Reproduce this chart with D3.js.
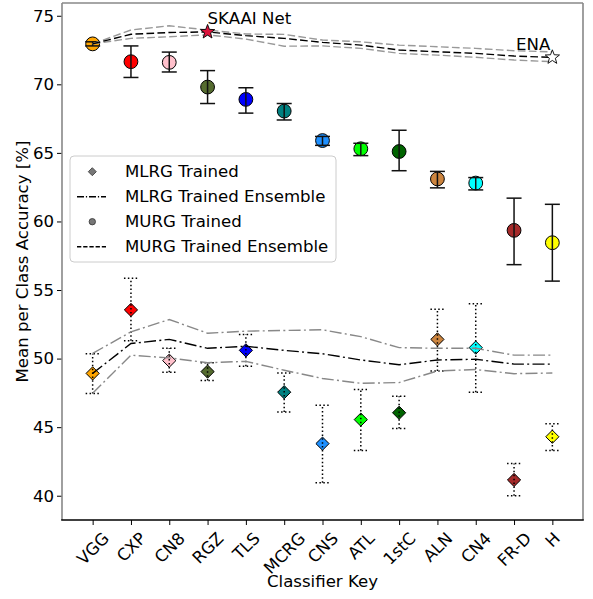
<!DOCTYPE html>
<html><head><meta charset="utf-8">
<script src="https://cdn.jsdelivr.net/npm/d3@7"></script>
<style>
body{margin:0;background:#fff}
svg{display:block}
text{font-family:"DejaVu Sans",sans-serif;fill:#000}
</style>
</head><body>
<svg id="chart" width="593" height="599"></svg>
<script>
// Classifiers along the x axis and their marker colours
const classifiers = ["VGG","CXP","CN8","RGZ","TLS","MCRG","CNS","ATL","1stC","ALN","CN4","FR-D","H"];
const classifierColors = ["orange","red","pink","darkolivegreen","blue","teal","dodgerblue","lime","darkgreen","peru","cyan","brown","yellow"];

// MURG trained: mean accuracy and error-bar bounds
const murgMean = [72.95, 71.65, 71.6, 69.8, 68.9, 68.05, 65.9, 65.3, 65.1, 63.1, 62.8, 59.35, 58.45];
const murgLow  = [72.8, 70.5, 70.9, 68.6, 67.9, 67.4, 65.55, 64.8, 63.7, 62.45, 62.3, 56.85, 55.65];
const murgHigh = [73.1, 72.8, 72.35, 71.0, 69.75, 68.6, 66.2, 65.7, 66.65, 63.65, 63.2, 61.7, 61.25];

// MURG trained ensemble (cumulative) with bounds
const murgEnsemble     = [72.95, 73.65, 73.78, 73.82, 73.55, 73.35, 73.06, 72.86, 72.5, 72.37, 72.26, 72.06, 71.97];
const murgEnsembleLow  = [72.95, 73.35, 73.47, 73.61, 73.3, 72.78, 72.8, 72.62, 72.26, 72.13, 71.97, 71.77, 71.65];
const murgEnsembleHigh = [72.95, 73.96, 74.27, 73.96, 73.67, 73.64, 73.23, 73.1, 72.86, 72.74, 72.62, 72.45, 72.37];

// MLRG trained: mean accuracy and error-bar bounds
const mlrgMean = [48.92, 53.55, 49.85, 49.05, 50.6, 47.55, 43.8, 45.55, 46.05, 51.4, 50.8, 41.15, 44.3];
const mlrgLow  = [47.45, 51.3, 49.0, 48.4, 49.45, 46.1, 40.95, 43.3, 44.9, 49.1, 47.55, 40.0, 43.3];
const mlrgHigh = [50.35, 55.85, 50.75, 49.7, 51.75, 48.95, 46.6, 47.75, 47.25, 53.6, 54.0, 42.35, 45.25];

// MLRG trained ensemble (cumulative) with bounds
const mlrgEnsemble     = [48.92, 51.1, 51.4, 50.75, 50.9, 50.6, 50.35, 49.9, 49.55, 49.9, 49.95, 49.6, 49.6];
const mlrgEnsembleLow  = [47.47, 50.25, 50.05, 49.7, 49.8, 49.15, 48.55, 48.2, 48.25, 49.1, 49.2, 48.9, 48.95];
const mlrgEnsembleHigh = [50.38, 51.95, 52.85, 51.85, 52.0, 52.05, 52.1, 51.6, 50.8, 50.75, 50.75, 50.25, 50.25];

// Highlighted ensembles
const highlights = [
  {label: "SKAAI Net", index: 3, fill: "crimson", anchor: "start", dx: 0, dy: -8},
  {label: "ENA", index: 12, fill: "white", anchor: "end", dx: -2, dy: -7}
];

const yTicks = [40, 45, 50, 55, 60, 65, 70, 75];

const svg = d3.select("#chart");
const plot = {left: 62, right: 583, top: 3, bottom: 520};

const x = d3.scaleLinear().domain([-0.8, 12.8]).range([plot.left, plot.right]);
const y = d3.scaleLinear().domain([38.23, 75.93]).range([plot.bottom, plot.top]);

const FS = 16.6;

// Frame
svg.append("rect").attr("x", plot.left).attr("y", plot.top)
  .attr("width", plot.right - plot.left).attr("height", plot.bottom - plot.top)
  .attr("fill", "#fff");

// Axes
const yAxis = d3.axisLeft(y).tickValues(yTicks).tickSize(5).tickPadding(3).tickFormat(d3.format("d"));
const gy = svg.append("g").attr("transform", `translate(${plot.left},0)`).call(yAxis);
gy.select(".domain").remove();
gy.selectAll(".tick line").attr("stroke", "#000").attr("stroke-width", 1);
gy.selectAll(".tick text").attr("font-size", FS).attr("font-family", '"DejaVu Sans",sans-serif');

const xAxis = d3.axisBottom(x).tickValues(d3.range(classifiers.length)).tickSize(5).tickFormat(i => classifiers[i]);
const gx = svg.append("g").attr("transform", `translate(0,${plot.bottom})`).call(xAxis);
gx.select(".domain").remove();
gx.selectAll(".tick line").attr("stroke", "#000").attr("stroke-width", 1);
gx.selectAll(".tick text")
  .attr("font-size", FS).attr("font-family", '"DejaVu Sans",sans-serif')
  .attr("text-anchor", "middle").attr("dy", null).attr("y", 0)
  .attr("dominant-baseline", "central")
  .each(function() {
    const w = this.getComputedTextLength();
    const h = FS * 0.95;
    const half = (w + h) * Math.SQRT1_2 / 2;
    const cy = 10 + half;
    d3.select(this).attr("transform", `translate(0,${cy}) rotate(-45)`);
  });

// Spines
svg.append("line").attr("x1", plot.left).attr("x2", plot.left).attr("y1", plot.top).attr("y2", plot.bottom)
  .attr("stroke", "#888").attr("stroke-width", 1.6);
svg.append("line").attr("x1", plot.right).attr("x2", plot.right).attr("y1", plot.top).attr("y2", plot.bottom)
  .attr("stroke", "#888").attr("stroke-width", 1.6);
svg.append("line").attr("x1", plot.left).attr("x2", plot.right).attr("y1", plot.top).attr("y2", plot.top)
  .attr("stroke", "#888").attr("stroke-width", 1.6);
svg.append("line").attr("x1", plot.left - 0.8).attr("x2", plot.right + 0.8).attr("y1", plot.bottom).attr("y2", plot.bottom)
  .attr("stroke", "#000").attr("stroke-width", 1.6);

// Axis titles
svg.append("text").attr("transform", `translate(22,${(plot.top + plot.bottom) / 2}) rotate(-90)`)
  .attr("text-anchor", "middle").attr("dominant-baseline", "central")
  .attr("font-size", FS).text("Mean per Class Accuracy [%]");
svg.append("text").attr("x", (plot.left + plot.right) / 2).attr("y", 587)
  .attr("text-anchor", "middle").attr("font-size", FS).text("Classifier Key");

const idx = d3.range(classifiers.length);
const lineOf = arr => d3.line().x(i => x(i)).y(i => y(arr[i]))(idx);

const layer = svg.append("g");

// MURG trained: circles with solid error bars
const murg = layer.append("g");
murg.selectAll("circle").data(idx).join("circle")
  .attr("cx", i => x(i)).attr("cy", i => y(murgMean[i])).attr("r", 6.9)
  .attr("fill", i => classifierColors[i]).attr("stroke", "#000").attr("stroke-width", 1);
const murgBars = murg.append("g").attr("stroke", "#111").attr("stroke-width", 1.5);
murgBars.selectAll(".bar").data(idx).join("line").attr("class", "bar")
  .attr("x1", i => x(i)).attr("x2", i => x(i))
  .attr("y1", i => y(murgLow[i])).attr("y2", i => y(murgHigh[i]));
murgBars.selectAll(".capHi").data(idx).join("line").attr("class", "capHi")
  .attr("x1", i => x(i) - 7.5).attr("x2", i => x(i) + 7.5)
  .attr("y1", i => y(murgHigh[i])).attr("y2", i => y(murgHigh[i]));
murgBars.selectAll(".capLo").data(idx).join("line").attr("class", "capLo")
  .attr("x1", i => x(i) - 7.5).attr("x2", i => x(i) + 7.5)
  .attr("y1", i => y(murgLow[i])).attr("y2", i => y(murgLow[i]));

// MLRG trained: diamonds with dotted error bars
const diamond = r => `M0,${-r}L${r},0L0,${r}L${-r},0Z`;
const mlrg = layer.append("g");
mlrg.selectAll("path").data(idx).join("path")
  .attr("d", diamond(6.6))
  .attr("transform", i => `translate(${x(i)},${y(mlrgMean[i])})`)
  .attr("fill", i => classifierColors[i]).attr("stroke", "#000").attr("stroke-width", 1);
const mlrgBars = mlrg.append("g").attr("stroke", "#000").attr("stroke-width", 1.5).attr("stroke-dasharray", "1.5,2.4");
mlrgBars.selectAll(".bar").data(idx).join("line").attr("class", "bar")
  .attr("x1", i => x(i)).attr("x2", i => x(i))
  .attr("y1", i => y(mlrgLow[i])).attr("y2", i => y(mlrgHigh[i]));
mlrgBars.selectAll(".capHi").data(idx).join("line").attr("class", "capHi")
  .attr("x1", i => x(i) - 7).attr("x2", i => x(i) + 7)
  .attr("y1", i => y(mlrgHigh[i])).attr("y2", i => y(mlrgHigh[i]));
mlrgBars.selectAll(".capLo").data(idx).join("line").attr("class", "capLo")
  .attr("x1", i => x(i) - 7).attr("x2", i => x(i) + 7)
  .attr("y1", i => y(mlrgLow[i])).attr("y2", i => y(mlrgLow[i]));

// Ensemble curves
const dashed = "7.7,3.3";
const dashDot = "12,3.3,2,3.3";
const curves = [
  {data: murgEnsembleHigh, color: "#999", dash: dashed},
  {data: murgEnsembleLow, color: "#999", dash: dashed},
  {data: murgEnsemble, color: "#000", dash: dashed},
  {data: mlrgEnsembleHigh, color: "#888", dash: dashDot},
  {data: mlrgEnsembleLow, color: "#888", dash: dashDot},
  {data: mlrgEnsemble, color: "#000", dash: dashDot}
];
layer.append("g").selectAll("path").data(curves).join("path")
  .attr("d", c => lineOf(c.data)).attr("fill", "none")
  .attr("stroke", c => c.color).attr("stroke-width", 1.4).attr("stroke-dasharray", c => c.dash);

// Star markers and labels for highlighted ensembles
const starPath = (R, ratio) => {
  const pts = [];
  for (let k = 0; k < 10; k++) {
    const r = k % 2 === 0 ? R : R * ratio;
    const a = -Math.PI / 2 + k * Math.PI / 5;
    pts.push([r * Math.cos(a), r * Math.sin(a)]);
  }
  return "M" + pts.map(p => p.join(",")).join("L") + "Z";
};
const hl = layer.append("g");
hl.selectAll("path").data(highlights).join("path")
  .attr("d", starPath(7.5, 0.42))
  .attr("transform", h => `translate(${x(h.index)},${y(murgEnsemble[h.index])})`)
  .attr("fill", h => h.fill).attr("stroke", "#000").attr("stroke-width", 0.9);
hl.selectAll("text").data(highlights).join("text")
  .attr("x", h => x(h.index) + h.dx).attr("y", h => y(murgEnsemble[h.index]) + h.dy)
  .attr("text-anchor", h => h.anchor).attr("font-size", FS).text(h => h.label);

// Legend
const legend = svg.append("g").attr("transform", "translate(70,156)");
legend.append("rect").attr("width", 266).attr("height", 106).attr("rx", 4)
  .attr("fill", "#fff").attr("fill-opacity", 0.8).attr("stroke", "#ccc").attr("stroke-width", 1);
const legendItems = [
  {label: "MLRG Trained", kind: "diamond"},
  {label: "MLRG Trained Ensemble", kind: "dashDot"},
  {label: "MURG Trained", kind: "circle"},
  {label: "MURG Trained Ensemble", kind: "dashed"}
];
legendItems.forEach((it, k) => {
  const cy = 15.7 + k * 25;
  const g = legend.append("g").attr("transform", `translate(0,${cy})`);
  if (it.kind === "diamond") {
    g.append("path").attr("d", diamond(4)).attr("transform", "translate(22.3,0)")
      .attr("fill", "#777").attr("stroke", "#333").attr("stroke-width", 0.8);
  } else if (it.kind === "circle") {
    g.append("circle").attr("cx", 22.3).attr("cy", 0).attr("r", 3.2)
      .attr("fill", "#777").attr("stroke", "#333").attr("stroke-width", 0.8);
  } else {
    g.append("line").attr("x1", 7).attr("x2", 36).attr("y1", 0).attr("y2", 0)
      .attr("stroke", "#000").attr("stroke-width", 1.4)
      .attr("stroke-dasharray", it.kind === "dashed" ? "4.3,1.9" : "7,1.9,1.2,1.9");
  }
  g.append("text").attr("x", 55).attr("y", 0).attr("dominant-baseline", "central")
    .attr("font-size", FS).text(it.label);
});
</script>
</body></html>
